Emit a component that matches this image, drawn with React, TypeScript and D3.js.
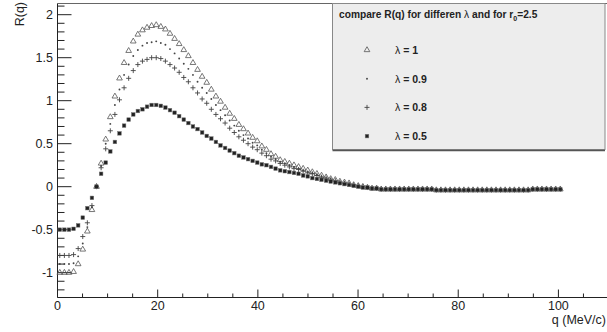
import * as d3 from "d3";

// histogram binning: 120 bins over 0..110, filled up to q ~ 100
const binWidth = 110 / 120;

// bins 70..109: all four series sit on the same flat tail
const tailValues = [
  -0.03, -0.03, -0.03, -0.03, -0.03, -0.03, -0.03, -0.03, -0.03, -0.03,
  -0.03, -0.03, -0.04, -0.04, -0.04, -0.04, -0.04, -0.04, -0.04, -0.04,
  -0.04, -0.04, -0.04, -0.04, -0.04, -0.04, -0.04, -0.04, -0.04, -0.04,
  -0.04, -0.04, -0.04, -0.03, -0.03, -0.03, -0.03, -0.03, -0.03, -0.03,
];

const lambda10 = [
  -1.0, -1.0, -1.0, -0.99, -0.9, -0.73, -0.52, -0.27, 0.0, 0.27,
  0.55, 0.81, 1.05, 1.26, 1.44, 1.58, 1.69, 1.77, 1.82, 1.85,
  1.87, 1.88, 1.86, 1.83, 1.78, 1.72, 1.66, 1.59, 1.52, 1.44,
  1.36, 1.28, 1.21, 1.13, 1.05, 0.99, 0.92, 0.85, 0.79, 0.72,
  0.67, 0.62, 0.57, 0.53, 0.47, 0.43, 0.38, 0.35, 0.31, 0.29,
  0.27, 0.25, 0.23, 0.21, 0.19, 0.17, 0.15, 0.13, 0.11, 0.09,
  0.08, 0.06, 0.05, 0.04, 0.02, 0.01, 0.0, -0.01, -0.02, -0.02,
].concat(tailValues);

const lambda09 = [
  -0.9, -0.9, -0.9, -0.89, -0.81, -0.66, -0.47, -0.24, 0.0, 0.24,
  0.5, 0.73, 0.95, 1.13, 1.3, 1.42, 1.52, 1.59, 1.64, 1.67,
  1.68, 1.69, 1.67, 1.65, 1.6, 1.55, 1.49, 1.43, 1.37, 1.3,
  1.22, 1.15, 1.09, 1.02, 0.95, 0.89, 0.83, 0.77, 0.71, 0.65,
  0.6, 0.56, 0.51, 0.48, 0.43, 0.39, 0.35, 0.32, 0.29, 0.27,
  0.25, 0.23, 0.21, 0.19, 0.17, 0.16, 0.14, 0.12, 0.1, 0.09,
  0.07, 0.06, 0.05, 0.04, 0.02, 0.01, 0.0, -0.01, -0.02, -0.02,
].concat(tailValues);

const lambda08 = [
  -0.8, -0.8, -0.8, -0.79, -0.72, -0.58, -0.42, -0.22, 0.0, 0.22,
  0.44, 0.65, 0.84, 1.01, 1.15, 1.26, 1.35, 1.42, 1.46, 1.48,
  1.5, 1.5, 1.49, 1.46, 1.42, 1.38, 1.33, 1.27, 1.22, 1.15,
  1.09, 1.02, 0.97, 0.9, 0.84, 0.79, 0.74, 0.68, 0.63, 0.58,
  0.54, 0.5, 0.46, 0.43, 0.39, 0.36, 0.32, 0.3, 0.27, 0.25,
  0.23, 0.21, 0.2, 0.18, 0.16, 0.15, 0.13, 0.11, 0.1, 0.08,
  0.07, 0.05, 0.04, 0.03, 0.02, 0.01, 0.0, -0.01, -0.02, -0.02,
].concat(tailValues);

const lambda05 = [
  -0.5, -0.5, -0.5, -0.49, -0.45, -0.36, -0.25, -0.13, 0.0, 0.15,
  0.28, 0.41, 0.52, 0.62, 0.71, 0.78, 0.84, 0.88, 0.9, 0.93,
  0.95, 0.95, 0.94, 0.92, 0.89, 0.86, 0.82, 0.78, 0.74, 0.7,
  0.67, 0.63, 0.59, 0.56, 0.52, 0.48, 0.45, 0.42, 0.39, 0.36,
  0.34, 0.32, 0.3, 0.28, 0.26, 0.25, 0.23, 0.21, 0.19, 0.18,
  0.17, 0.16, 0.15, 0.13, 0.12, 0.1, 0.09, 0.08, 0.07, 0.06,
  0.05, 0.04, 0.03, 0.02, 0.01, 0.0, -0.01, -0.01, -0.02, -0.02,
].concat(tailValues);

const seriesLabels = ["1", "0.9", "0.8", "0.5"];
const seriesMarkers = ["triangle", "dot", "cross", "square"];
const seriesValues = [lambda10, lambda09, lambda08, lambda05];

const xMajorTicks = [0, 20, 40, 60, 80, 100];
const yMajorTicks = [-1, -0.5, 0, 0.5, 1, 1.5, 2];

const font = "'Liberation Sans', Arial, Helvetica, sans-serif";
const ink = "#222";

function Marker({ type, cx, cy }: { type: string; cx: number; cy: number }) {
  if (type === "triangle") {
    const tri = d3.symbol().type(d3.symbolTriangle).size(14)();
    return (
      <path d={tri || ""} transform={`translate(${cx},${cy})`} fill="none" stroke="#555" strokeWidth={0.8} />
    );
  }
  if (type === "dot") return <circle cx={cx} cy={cy} r={0.95} fill="#444" />;
  if (type === "cross")
    return (
      <path
        d={`M${cx - 2.5},${cy}H${cx + 2.5}M${cx},${cy - 2.5}V${cy + 2.5}`}
        stroke="#444"
        strokeWidth={0.9}
      />
    );
  return <rect x={cx - 1.8} y={cy - 1.8} width={3.6} height={3.6} fill="#222" stroke="#777" strokeWidth={0.5} />;
}

export default function App() {
  const width = 607;
  const height = 332;
  const left = 57.5;
  const bottom = 297.5;
  const top = 3.5;

  const x = d3.scaleLinear().domain([0, 110]).range([left, 608.5]);
  const y = d3.scaleLinear().domain([-1.283, 2.136]).range([297, 3]);

  const xMinor = d3.range(0, 110.01, 5).filter((v) => !xMajorTicks.includes(v));
  const yMinor = d3
    .range(-12, 22, 1)
    .map((v) => v / 10)
    .filter((v) => !yMajorTicks.some((m) => Math.abs(m - v) < 1e-9));

  const legendRows = seriesLabels.map((_, i) => 50 + i * 28.7);

  return (
    <svg
      width={width}
      height={height}
      style={{ position: "absolute", left: 0, top: 0, background: "#fff" }}
      fontFamily={font}
    >
      {/* frame */}
      <line x1={left} x2={width} y1={top} y2={top} stroke="#666" strokeWidth={1} />
      <line x1={left} x2={left} y1={top} y2={bottom} stroke={ink} strokeWidth={1} />
      <line x1={left} x2={width} y1={bottom} y2={bottom} stroke={ink} strokeWidth={1} />

      {/* x ticks */}
      {xMajorTicks.map((t) => (
        <g key={`xm${t}`}>
          <line x1={x(t)} x2={x(t)} y1={bottom} y2={bottom - 8} stroke={ink} />
          <text x={x(t)} y={310} fontSize={12.5} textAnchor="middle" fill={ink}>
            {t}
          </text>
        </g>
      ))}
      {xMinor.map((t) => (
        <line key={`xn${t}`} x1={x(t)} x2={x(t)} y1={bottom} y2={bottom - 4} stroke={ink} />
      ))}

      {/* y ticks */}
      {yMajorTicks.map((t) => (
        <g key={`ym${t}`}>
          <line x1={left} x2={left + 14} y1={y(t)} y2={y(t)} stroke={ink} />
          <text x={53} y={y(t) + 4.5} fontSize={12.5} textAnchor="end" fill={ink}>
            {t}
          </text>
        </g>
      ))}
      {yMinor.map((t) => (
        <line key={`yn${t}`} x1={left} x2={left + 7} y1={y(t)} y2={y(t)} stroke={ink} />
      ))}

      {/* axis titles */}
      <text transform="translate(24,2) rotate(-90)" fontSize={12.5} textAnchor="end" fill={ink}>
        R(q)
      </text>
      <text x={606} y={324} fontSize={12.5} textAnchor="end" fill={ink}>
        q (MeV/c)
      </text>

      {/* data */}
      {seriesValues.map((vals, s) => (
        <g key={`s${s}`}>
          {vals.map((v, i) => (
            <Marker key={i} type={seriesMarkers[s]} cx={x((i + 0.5) * binWidth)} cy={y(v)} />
          ))}
        </g>
      ))}

      {/* legend */}
      <rect x={332.5} y={top} width={272.5} height={146} fill="#ededed" stroke="#888" strokeWidth={1} />
      <line x1={332.5} x2={605} y1={150.5} y2={150.5} stroke="#555" strokeWidth={1.5} />
      <text x={339} y={18} fontSize={10.2} fontWeight="bold" fill={ink}>
        compare R(q) for differen <tspan fontWeight="normal">λ</tspan> and for r
        <tspan fontSize={7} dy={3}>0</tspan>
        <tspan dy={-3}>=2.5</tspan>
      </text>
      {legendRows.map((cy, i) => (
        <g key={`l${i}`}>
          <Marker type={seriesMarkers[i]} cx={367} cy={cy} />
          <text x={395} y={cy + 4} fontSize={10.5} fontWeight="bold" fill={ink}>
            <tspan fontWeight="normal">λ</tspan> = {seriesLabels[i]}
          </text>
        </g>
      ))}
    </svg>
  );
}
